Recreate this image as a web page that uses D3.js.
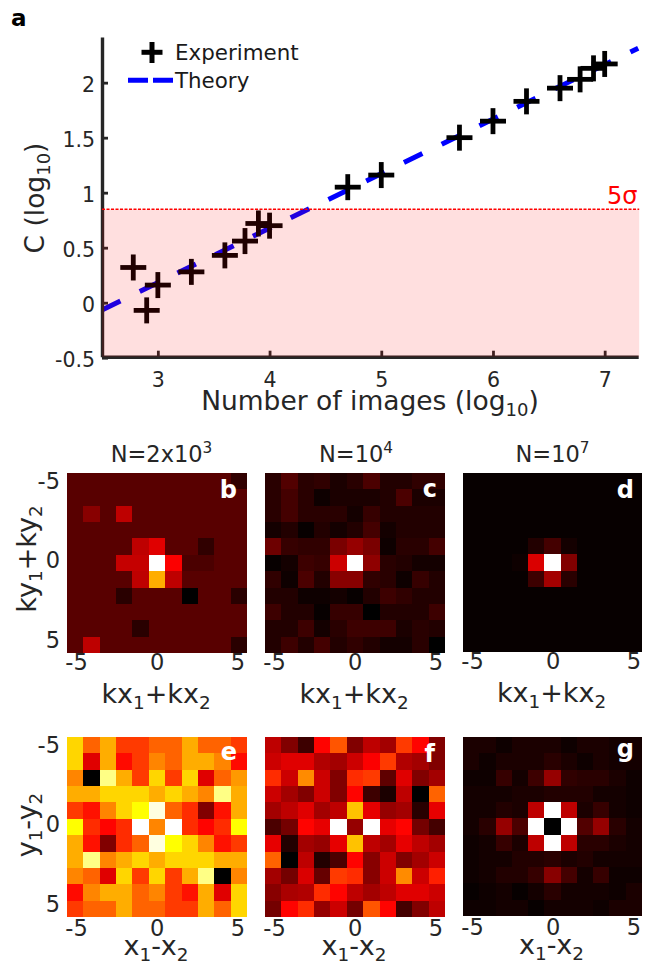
<!DOCTYPE html>
<html><head><meta charset="utf-8">
<script src="https://cdnjs.cloudflare.com/ajax/libs/d3/7.8.5/d3.min.js"></script>
<style>html,body{margin:0;padding:0;background:#fff}svg{display:block}text{font-family:"DejaVu Sans",sans-serif}</style>
</head><body><svg id="c" width="652" height="965"></svg>
<script>
const expX=[2.78,2.9,3,3.3,3.6,3.78,3.9,4,4.7,5,5.7,6,6.3,6.6,6.78,6.9,7];
const expY=[0.32,-0.07,0.16,0.28,0.43,0.56,0.72,0.7,1.05,1.16,1.5,1.65,1.83,1.95,2.03,2.13,2.17];
const theoryX=[2.5,7.3];
const theoryY=[-0.066,2.313];
const threshold=0.85;
const mainXTicks=[3,4,5,6,7];
const mainYTicks=[-0.5,0,0.5,1,1.5,2];
const heatTicks=[-5,0,5];
const gridB=[
[13,13,13,13,13,13,13,13,13,13,7],
[13,13,13,13,13,13,13,13,13,13,13],
[13,20,13,28,13,13,13,13,13,13,13],
[13,13,13,13,13,13,13,13,13,13,13],
[13,13,13,13,28,33,13,13,7,13,13],
[13,13,13,29,29,100,37,11,11,13,13],
[13,13,13,13,28,63,28,13,13,13,13],
[13,13,13,6,13,13,13,0,13,13,6],
[13,13,13,13,13,13,13,13,13,13,13],
[13,13,13,13,6,13,13,13,13,13,13],
[13,28,13,13,13,13,13,13,13,13,6]];
const gridC=[
[6,12,6,7,4,6,11,5,5,7,7],
[6,10,6,2,4,4,4,5,11,4,4],
[6,10,6,6,6,3,8,5,5,5,5],
[3,5,1,5,3,5,10,3,5,5,5],
[16,8,7,7,18,22,18,2,6,6,10],
[1,3,9,8,30,100,21,6,5,3,3],
[7,2,11,5,20,20,7,6,2,8,5],
[5,5,2,2,3,1,5,9,7,5,5],
[9,5,5,1,8,8,0,5,5,5,9],
[5,5,9,3,6,9,9,9,4,6,5],
[5,9,5,10,5,7,5,3,3,6,0]];
const gridD=[
[1,1,1,1,1,1,1,1,1,1,1],
[1,1,1,1,1,1,1,1,1,1,1],
[1,1,1,1,1,1,1,1,1,1,1],
[1,1,1,1,1,1,1,1,1,1,1],
[1,1,1,1,5,10,3,1,1,1,1],
[1,1,1,2,32,100,19,1,1,1,1],
[1,1,1,1,9,24,6,1,1,1,1],
[1,1,1,1,1,1,1,1,1,1,1],
[1,1,1,1,1,1,1,1,1,1,1],
[1,1,1,1,1,1,1,1,1,1,1],
[1,1,1,1,1,1,1,1,1,1,1]];
const gridE=[
[69,52,63,46,46,52,52,63,52,52,46],
[69,33,63,39,46,57,52,63,63,57,39],
[57,0,88,63,46,69,46,69,33,52,60],
[63,63,69,69,69,63,69,63,57,88,63],
[46,40,57,69,75,97,52,44,19,40,63],
[75,44,38,44,100,57,100,44,38,44,75],
[63,40,19,44,52,97,75,69,57,40,46],
[63,88,57,63,69,63,69,69,69,63,63],
[57,52,33,69,46,69,46,63,88,0,57],
[39,57,63,63,52,57,46,40,63,33,69],
[46,52,52,63,52,52,46,46,63,52,69]];
const gridF=[
[28,19,9,38,50,19,28,24,46,38,19],
[30,33,33,26,24,30,37,46,26,24,19],
[44,30,58,30,19,44,46,14,33,19,24],
[30,24,19,30,19,38,9,4,28,0,52],
[24,28,33,24,28,66,34,22,24,6,34],
[11,17,38,34,100,22,100,34,38,17,10],
[34,5,24,22,34,66,28,24,34,28,24],
[52,0,28,5,11,38,20,30,19,24,30],
[24,17,32,15,46,44,20,30,58,30,42],
[20,25,26,44,38,28,24,28,33,33,30],
[17,38,44,22,30,17,50,38,10,19,28]];
const gridG=[
[4,4,2,4,4,4,2,4,4,3,3],
[4,2,4,4,4,6,4,2,4,3,3],
[2,2,8,3,9,22,7,6,6,4,2],
[3,3,3,4,4,5,5,5,3,3,2],
[3,3,5,4,28,100,28,4,8,3,2],
[3,6,22,11,100,0,100,12,22,6,3],
[2,3,8,4,28,100,28,6,6,4,3],
[2,3,3,5,5,6,4,5,3,3,3],
[2,3,5,5,8,20,10,3,8,2,2],
[1,2,3,1,3,6,3,3,3,2,4],
[2,2,3,3,1,3,3,3,2,4,4]];

const svg=d3.select("#c");
const ink="#262626";
const hot=v=>{const t=v/100,c=x=>Math.round(255*Math.max(0,Math.min(1,x)));
  return `rgb(${c(t/0.375)},${c((t-0.375)/0.375)},${c((t-0.75)/0.25)})`;};
function rich(sel,parts,size){
  let off=0;
  parts.forEach(p=>{
    const target=p[1]==="sub"?size*0.22:p[1]==="sup"?-size*0.38:0;
    const t=sel.append("tspan").attr("dy",target-off).text(p[0]);
    if(p[1]) t.attr("font-size",size*0.68);
    off=target;
  });
}
function styleAxis(g,sw,fs){
  g.select(".domain").attr("stroke",ink).attr("stroke-width",sw);
  g.selectAll(".tick line").attr("stroke",ink).attr("stroke-width",2.8);
  g.selectAll(".tick text").attr("fill",ink).attr("font-size",fs).attr("font-family",'"DejaVu Sans"');
}
// ---- panel a
const xM=d3.scaleLinear().domain([2.5,7.3]).range([102,638.2]);
const yM=d3.scaleLinear().domain([-0.491,2.415]).range([356.7,37]);
const a=svg.append("g");
const line=d3.line().x((d,i)=>xM(theoryX[i])).y(d=>yM(d));
a.append("path").attr("d",line(theoryY)).attr("fill","none").attr("stroke","#0000ff").attr("stroke-width",5).attr("stroke-dasharray","20.5 21.5");
const gx=a.append("g").attr("transform",`translate(0,${yM.range()[0]})`)
 .call(d3.axisBottom(xM).tickValues(mainXTicks).tickFormat(d3.format("d")).tickSizeInner(-6).tickSizeOuter(0).tickPadding(16));
styleAxis(gx,3.4,20.5);
const gy=a.append("g").attr("transform",`translate(${xM.range()[0]},0)`)
 .call(d3.axisLeft(yM).tickValues(mainYTicks).tickFormat(d=>String(d)).tickSizeInner(-6).tickSizeOuter(0).tickPadding(7));
styleAxis(gy,3.4,20.5);
gy.selectAll(".tick text").attr("y",2.2);
const crossLen=13;
const cross=a.append("g").selectAll("g").data(expX).join("g").attr("transform",(d,i)=>`translate(${xM(d)},${yM(expY[i])})`);
cross.append("line").attr("x1",-crossLen).attr("x2",crossLen).attr("stroke","#000").attr("stroke-width",4.8);
cross.append("line").attr("y1",-crossLen).attr("y2",crossLen).attr("stroke","#000").attr("stroke-width",4.8);
// threshold band on top of marks
a.append("rect").attr("x",xM.range()[0]).attr("width",xM.range()[1]-xM.range()[0]+1)
 .attr("y",yM(threshold)).attr("height",yM.range()[0]-yM(threshold)).attr("fill","#ff0000").attr("fill-opacity",0.125);
a.append("line").attr("x1",xM.range()[0]).attr("x2",xM.range()[1]+1).attr("y1",yM(threshold)).attr("y2",yM(threshold))
 .attr("stroke","#ff0000").attr("stroke-width",1.5).attr("stroke-dasharray","3 1.5");
a.append("text").attr("x",607).attr("y",204).attr("fill","#ff0000").attr("font-size",24).text("5σ");
// legend
a.append("line").attr("x1",141.5).attr("x2",162.5).attr("y1",52.3).attr("y2",52.3).attr("stroke","#000").attr("stroke-width",5);
a.append("line").attr("x1",152).attr("x2",152).attr("y1",42).attr("y2",63).attr("stroke","#000").attr("stroke-width",5);
a.append("text").attr("x",175).attr("y",60).attr("font-size",21.4).attr("fill","#1a1a1a").text("Experiment");
a.append("line").attr("x1",128).attr("x2",175).attr("y1",80.3).attr("y2",80.3).attr("stroke","#0000ff").attr("stroke-width",5).attr("stroke-dasharray","20 5");
a.append("text").attr("x",175).attr("y",87.7).attr("font-size",21.4).attr("fill","#1a1a1a").text("Theory");
svg.append("text").attr("x",11).attr("y",25.7).attr("font-size",23).attr("font-weight","bold").attr("fill","#000").text("a");
rich(svg.append("text").attr("x",370).attr("y",410).attr("text-anchor","middle").attr("font-size",26.5).attr("fill",ink),[["Number of images (log"],["10","sub"],[")"]],26.5);
rich(svg.append("text").attr("transform","translate(44,198) rotate(-90)").attr("text-anchor","middle").attr("font-size",26.5).attr("fill",ink),[["C (log"],["10","sub"],[")"]],26.5);
// ---- heat panels
const idx=d3.range(11);
function heat(grid,x0,y0,size,letter,xLab,o){
  const g=svg.append("g").attr("transform",`translate(${x0},${y0})`);
  const band=d3.scaleBand().domain(idx).range([0,size]);
  const tx=d3.scaleLinear().domain([-5,5]).range([9,170.5]);
  const ty=d3.scaleLinear().domain([-5,5]).range([7,166]);
  g.selectAll("g.row").data(grid).join("g").attr("class","row").attr("transform",(d,i)=>`translate(0,${band(i)})`)
   .selectAll("rect").data(d=>d).join("rect").attr("shape-rendering","crispEdges")
   .attr("x",(d,i)=>band(i)).attr("width",band.bandwidth()).attr("height",band.bandwidth()).attr("fill",d=>hot(d));
  const ax=g.append("g").attr("transform",`translate(0,${size})`)
   .call(d3.axisBottom(tx).tickValues(heatTicks).tickFormat(d=>String(d)).tickSize(0).tickPadding(o.pad));
  ax.select(".domain").remove(); ax.selectAll("text").attr("font-size",22.5).attr("fill",ink);
  if(o.yAxis){
    const ay=g.append("g").call(d3.axisLeft(ty).tickValues(heatTicks).tickFormat(d=>String(d)).tickSize(0).tickPadding(7));
    ay.select(".domain").remove(); ay.selectAll("text").attr("font-size",22.5).attr("fill",ink).attr("y",1);
  }
  g.append("text").attr("x",size-o.lr).attr("y",o.lb).attr("text-anchor","end").attr("font-size",24).attr("font-weight","bold").attr("fill","#fff").text(letter);
  rich(g.append("text").attr("x",size/2-1).attr("y",size+o.labDy).attr("text-anchor","middle").attr("font-size",27).attr("fill",ink),xLab,27);
  if(o.title) rich(g.append("text").attr("x",size/2+o.tdx).attr("y",-11).attr("text-anchor","middle").attr("font-size",22.5).attr("fill",ink),o.title,22.5);
}
const kxLab=[["kx"],["1","sub"],["+kx"],["2","sub"]];
const xLab=[["x"],["1","sub"],["-x"],["2","sub"]];
heat(gridB,67,473,180,"b",kxLab,{yAxis:true,pad:1,labDy:50,lr:10,lb:25,tdx:4.5,title:[["N=2x10"],["3","sup"]]});
heat(gridC,265,473,180,"c",kxLab,{pad:1,labDy:50,lr:8,lb:24,tdx:1,title:[["N=10"],["4","sup"]]});
heat(gridD,463,473,179,"d",kxLab,{pad:1,labDy:50,lr:8,lb:25,tdx:0,title:[["N=10"],["7","sup"]]});
heat(gridE,67,737,180,"e",xLab,{yAxis:true,pad:3,labDy:38,lr:10,lb:23});
heat(gridF,265,737,180,"f",xLab,{pad:3,labDy:38,lr:10,lb:25});
heat(gridG,463,737,179,"g",xLab,{pad:3,labDy:38,lr:8,lb:20});
rich(svg.append("text").attr("transform","translate(36,559) rotate(-90)").attr("text-anchor","middle").attr("font-size",27).attr("fill",ink),[["ky"],["1","sub"],["+ky"],["2","sub"]],27);
rich(svg.append("text").attr("transform","translate(36,825) rotate(-90)").attr("text-anchor","middle").attr("font-size",27).attr("fill",ink),[["y"],["1","sub"],["-y"],["2","sub"]],27);
</script></body></html>
